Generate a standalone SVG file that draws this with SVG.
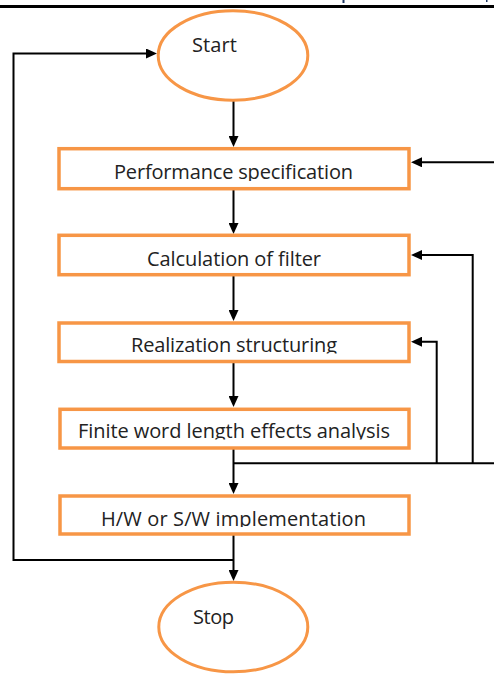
<svg xmlns="http://www.w3.org/2000/svg" width="494" height="674" viewBox="0 0 494 674">
<style>
.box{fill:#ffffff;stroke:#F79646;stroke-width:3.5}
.lbl{font-family:"Open Sans","Noto Sans","DejaVu Sans",sans-serif;font-size:20px;fill:#222222}
.ln{fill:none;stroke:#000000;stroke-width:2}
</style>
<defs>
<marker id="ah" markerUnits="userSpaceOnUse" markerWidth="12" markerHeight="10" refX="1" refY="5" orient="auto">
<path d="M0,0 L11,5 L0,10 z" fill="#000000"/>
</marker>
<clipPath id="c1"><rect x="61" y="150" width="346" height="31"/></clipPath>
<clipPath id="c3"><rect x="61" y="325" width="346" height="28.5"/></clipPath>
<clipPath id="c4"><rect x="61" y="411" width="346" height="28.5"/></clipPath>
<clipPath id="c5"><rect x="61" y="498" width="346" height="29"/></clipPath>
</defs>
<rect x="0" y="0" width="494" height="674" fill="#ffffff"/>
<rect x="0" y="5" width="494" height="3" fill="#000000"/>
<rect x="342.5" y="0" width="2" height="3" fill="#1F3864"/>
<rect x="486" y="0" width="1.5" height="2" fill="#1F3864"/>

<g id="connectors">
<path class="ln" d="M233.5,101 V137" marker-end="url(#ah)"/>
<path class="ln" d="M233.5,190 V224" marker-end="url(#ah)"/>
<path class="ln" d="M233.5,276 V311" marker-end="url(#ah)"/>
<path class="ln" d="M233.5,363 V397" marker-end="url(#ah)"/>
<path class="ln" d="M233.5,449 V484" marker-end="url(#ah)"/>
<path class="ln" d="M233.5,535 V571" marker-end="url(#ah)"/>
<path class="ln" d="M233.5,560 H13.5 V53.5 H147" marker-end="url(#ah)"/>
<path class="ln" d="M494,162.3 H421" marker-end="url(#ah)"/>
<path class="ln" d="M233.5,463.3 H494"/>
<path class="ln" d="M472.7,463.3 V255 H421" marker-end="url(#ah)"/>
<path class="ln" d="M436.7,463.3 V341.7 H421" marker-end="url(#ah)"/>
</g>

<g id="start">
<ellipse cx="233" cy="55.5" rx="74.8" ry="44.7" fill="#ffffff" stroke="#F79646" stroke-width="3"/>
<text class="lbl" x="192" y="52" textLength="45">Start</text>
</g>
<g id="perf">
<rect class="box" x="59" y="148.7" width="350" height="40"/>
<text class="lbl" x="114" y="179.3" textLength="239" clip-path="url(#c1)">Performance specification</text>
</g>
<g id="calc">
<rect class="box" x="59" y="235.3" width="350" height="39.4"/>
<text class="lbl" x="147" y="266" textLength="174">Calculation of filter</text>
</g>
<g id="real">
<rect class="box" x="59" y="323" width="350" height="38.5"/>
<text class="lbl" x="131" y="352" textLength="206" clip-path="url(#c3)">Realization structuring</text>
</g>
<g id="finite">
<rect class="box" x="60" y="409.3" width="349" height="38.7"/>
<text class="lbl" x="78" y="438" textLength="312" clip-path="url(#c4)">Finite word length effects analysis</text>
</g>
<g id="impl">
<rect class="box" x="60" y="496" width="349" height="38"/>
<text class="lbl" x="101" y="526" textLength="265" clip-path="url(#c5)">H/W or S/W implementation</text>
</g>
<g id="stop">
<ellipse cx="233.3" cy="627" rx="74.5" ry="44.8" fill="#ffffff" stroke="#F79646" stroke-width="3"/>
<text class="lbl" x="193" y="624" textLength="41">Stop</text>
</g>
</svg>
